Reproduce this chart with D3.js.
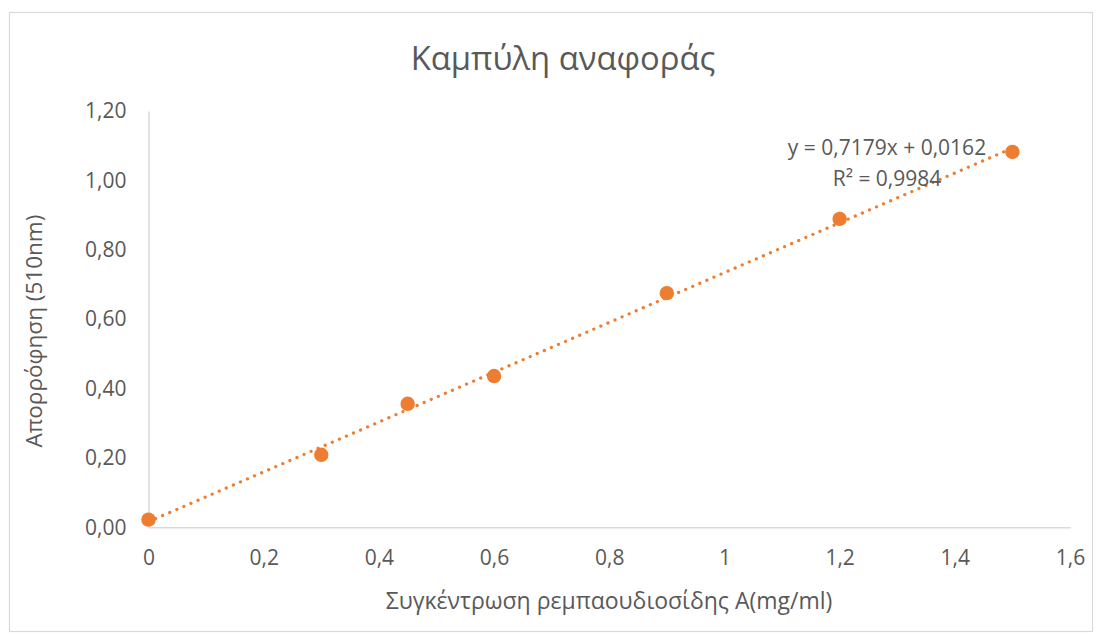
<!DOCTYPE html>
<html>
<head>
<meta charset="utf-8">
<script src="https://cdn.jsdelivr.net/npm/d3@7"></script>
<style>
  body { margin: 0; background: #fff; }
  svg { display: block; font-family: "Open Sans", "Noto Sans", sans-serif; }
</style>
</head>
<body>
<svg id="chart" width="1102" height="637"></svg>
<script>
const title = "Καμπύλη αναφοράς";
const xTitle = "Συγκέντρωση ρεμπαουδιοσίδης A(mg/ml)";
const yTitle = "Απορρόφηση (510nm)";
const concentrations = [0, 0.3, 0.45, 0.6, 0.9, 1.2, 1.5];
const absorbance = [0.022, 0.209, 0.356, 0.436, 0.675, 0.889, 1.082];
const xTicks = [0, 0.2, 0.4, 0.6, 0.8, 1.0, 1.2, 1.4, 1.6];
const yTicks = [0, 0.2, 0.4, 0.6, 0.8, 1.0, 1.2];
const slope = 0.7179, intercept = 0.0162, r2 = 0.9984;
const equationLines = ["y = 0,7179x + 0,0162", "R² = 0,9984"];

const svg = d3.select("#chart");
const textColor = "#595959";
const accent = "#ED7D31";

svg.append("rect").attr("x", 9.5).attr("y", 12.5).attr("width", 1083).attr("height", 619)
  .attr("fill", "#fff").attr("stroke", "#D9D9D9").attr("stroke-width", 1.2);

const plot = { left: 148.5, right: 1070, top: 111, bottom: 527.3 };
const x = d3.scaleLinear().domain([0, 1.6]).range([plot.left, plot.right]);
const y = d3.scaleLinear().domain([0, 1.2]).range([plot.bottom, plot.top]);

const fmtX = d => d3.format("~g")(+d.toFixed(1)).replace(".", ",");
const fmtY = d => d.toFixed(2).replace(".", ",");

// X axis
const xAxis = svg.append("g").attr("transform", `translate(0,${plot.bottom})`)
  .call(d3.axisBottom(x).tickValues(xTicks).tickFormat(fmtX).tickSize(0).tickPadding(23));
xAxis.select(".domain").attr("stroke", "#D9D9D9").attr("stroke-width", 1.5);
xAxis.selectAll("text").attr("fill", textColor).attr("font-size", 21)
  .attr("font-family", "'Open Sans', sans-serif");

// Y axis
const yAxis = svg.append("g").attr("transform", `translate(${plot.left},0)`)
  .call(d3.axisLeft(y).tickValues(yTicks).tickFormat(fmtY).tickSize(0).tickPadding(22));
yAxis.select(".domain").attr("stroke", "#D9D9D9").attr("stroke-width", 1.5);
yAxis.selectAll("text").attr("fill", textColor).attr("font-size", 21)
  .attr("font-family", "'Open Sans', sans-serif");

// Title
svg.append("text").attr("x", 563).attr("y", 70).attr("text-anchor", "middle")
  .attr("fill", textColor).attr("font-size", 32.8).text(title);

// Axis titles
svg.append("text").attr("x", 609).attr("y", 609).attr("text-anchor", "middle")
  .attr("fill", textColor).attr("font-size", 23).text(xTitle);
svg.append("text").attr("transform", `translate(42,${(plot.top + plot.bottom) / 2 + 12}) rotate(-90)`)
  .attr("text-anchor", "middle").attr("fill", textColor).attr("font-size", 22.5).text(yTitle);

// Trendline
const xMin = d3.min(concentrations), xMax = d3.max(concentrations);
svg.append("line")
  .attr("x1", x(xMin)).attr("y1", y(slope * xMin + intercept))
  .attr("x2", x(xMax)).attr("y2", y(slope * xMax + intercept))
  .attr("stroke", accent).attr("stroke-width", 3.2)
  .attr("stroke-linecap", "round").attr("stroke-dasharray", "0.1 7.6");

// Points
svg.append("g").selectAll("circle").data(concentrations).join("circle")
  .attr("cx", d => x(d)).attr("cy", (d, i) => y(absorbance[i]))
  .attr("r", 7.2).attr("fill", accent);

// Equation label
const eq = svg.append("text").attr("text-anchor", "middle").attr("fill", textColor).attr("font-size", 21);
eq.selectAll("tspan").data(equationLines).join("tspan")
  .attr("x", 887).attr("y", (d, i) => 155 + i * 31).text(d => d);
</script>
</body>
</html>
